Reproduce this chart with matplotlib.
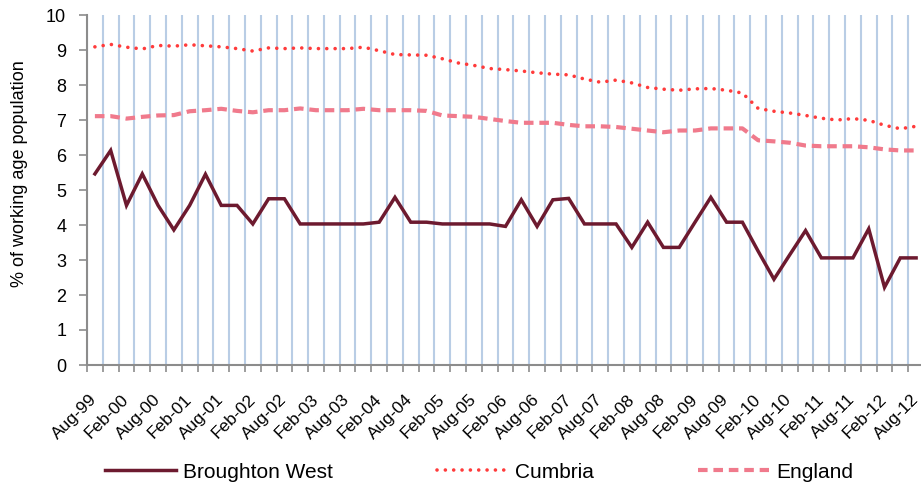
import matplotlib.pyplot as plt
import matplotlib.transforms as mtransforms
import numpy as np

plt.rcParams['font.family'] = ['Liberation Sans', 'DejaVu Sans']

# quarterly claimant rate, Aug-99 .. Aug-12
broughton = [5.46, 6.13, 4.56, 5.46, 4.56, 3.86, 4.56, 5.45, 4.56, 4.56,
             4.03, 4.75, 4.75, 4.03, 4.03, 4.03, 4.03, 4.03, 4.08, 4.79,
             4.08, 4.08, 4.03, 4.03, 4.03, 4.03, 3.96, 4.72, 3.96, 4.72,
             4.76, 4.03, 4.03, 4.03, 3.36, 4.08, 3.36, 3.36, 4.08, 4.79,
             4.08, 4.08, 3.25, 2.45, 3.15, 3.84, 3.06, 3.06, 3.06, 3.89,
             2.22, 3.06, 3.06]
cumbria = [9.09, 9.16, 9.08, 9.03, 9.13, 9.11, 9.15, 9.12, 9.09, 9.04,
           8.97, 9.06, 9.04, 9.06, 9.04, 9.04, 9.04, 9.08, 8.98, 8.87,
           8.86, 8.85, 8.75, 8.63, 8.56, 8.47, 8.44, 8.40, 8.35, 8.31,
           8.29, 8.17, 8.08, 8.14, 8.06, 7.93, 7.88, 7.85, 7.89, 7.90,
           7.85, 7.77, 7.33, 7.25, 7.20, 7.13, 7.05, 7.00, 7.04, 6.99,
           6.85, 6.75, 6.82]
england = [7.11, 7.11, 7.04, 7.09, 7.13, 7.14, 7.25, 7.28, 7.32, 7.26,
           7.22, 7.28, 7.28, 7.33, 7.28, 7.28, 7.28, 7.32, 7.28, 7.28,
           7.28, 7.26, 7.13, 7.11, 7.09, 7.03, 6.97, 6.92, 6.92, 6.92,
           6.86, 6.82, 6.82, 6.80, 6.75, 6.70, 6.65, 6.70, 6.70, 6.76,
           6.76, 6.76, 6.42, 6.39, 6.35, 6.27, 6.25, 6.25, 6.25, 6.22,
           6.16, 6.13, 6.13]
etiquetas = ['Aug-99', 'Feb-00', 'Aug-00', 'Feb-01', 'Aug-01', 'Feb-02', 'Aug-02',
             'Feb-03', 'Aug-03', 'Feb-04', 'Aug-04', 'Feb-05', 'Aug-05', 'Feb-06',
             'Aug-06', 'Feb-07', 'Aug-07', 'Feb-08', 'Aug-08', 'Feb-09', 'Aug-09',
             'Feb-10', 'Aug-10', 'Feb-11', 'Aug-11', 'Feb-12', 'Aug-12']

n = len(broughton)
x = np.arange(n)

fig = plt.figure(figsize=(9.21, 4.88), dpi=100)
ax = fig.add_axes([87/921, 1-365/488, (924-87)/921, 350/488])

gris = '#8c8c8c'
ax.plot(x, broughton, color='#6d1a2f', lw=2.5, solid_joinstyle='miter', label='Broughton West', zorder=4)
ax.plot(x, cumbria, color='#ff3b3b', lw=2.6, linestyle=(0, (0.01, 2.3)), dash_capstyle='round', label='Cumbria', zorder=3)
ax.plot(x, england, color='#f07a8c', lw=3.0, linestyle=(0, (2.3, 1.4)), label='England', zorder=3)

ax.set_xlim(-0.5, n - 0.5)
ax.set_ylim(0, 10)
ax.set_yticks(range(0, 11))

ax.set_xticks(x[::2])
ax.set_xticklabels(etiquetas, rotation=45, ha='right', va='center', rotation_mode='anchor', fontsize=12.5)
desplazo = mtransforms.ScaledTranslation(-4/72, 0, fig.dpi_scale_trans)
for etq in ax.get_xticklabels():
    etq.set_transform(etq.get_transform() + desplazo)
ax.set_xticks(np.arange(n + 1) - 0.5, minor=True)
ax.tick_params(axis='x', which='major', length=0, pad=23)
ax.tick_params(axis='x', which='minor', length=5, width=1.2, color=gris, direction='out')
ax.tick_params(axis='y', length=6, width=1.2, color=gris, direction='out', pad=9, labelsize=13)
ax.grid(True, axis='x', which='minor', color='#b9cde5', lw=1.5)
ax.set_axisbelow(True)

for s in ['top', 'right']:
    ax.spines[s].set_visible(False)
for s in ['left', 'bottom']:
    ax.spines[s].set_color(gris)
    ax.spines[s].set_linewidth(1.5)

fig.text(20/921, 1 - 174/488, '% of working age population', rotation=90, ha='center', va='center', fontsize=13)

fig.legend(loc='center', bbox_to_anchor=(479/921, 1-472/488), ncol=3, frameon=False,
           fontsize=15, handlelength=3.4, handletextpad=0.34, columnspacing=5.0)

plt.savefig('out.png', dpi=100)
